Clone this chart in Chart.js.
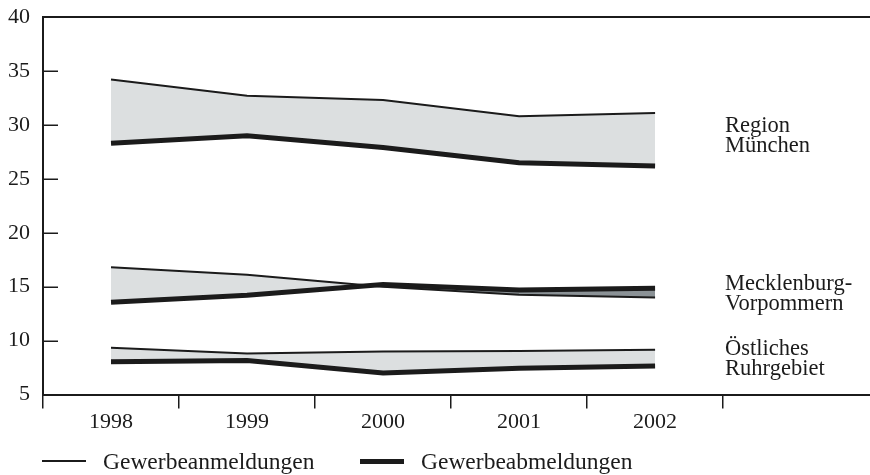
<!DOCTYPE html>
<html>
<head>
<meta charset="utf-8">
<script src="https://cdn.jsdelivr.net/npm/chart.js@4"></script>
<style>
  body { margin: 0; background: #fff; }
  #wrap { position: relative; width: 870px; height: 475px; }
  #legend { position: absolute; left: 0; top: 447px; width: 870px; height: 28px;
            font: 23.5px "Liberation Serif", "Times New Roman", serif; color: #1b1b1b; }
  .item { position: absolute; top: 0; display: flex; align-items: center; height: 28px; white-space: nowrap; }
  .swatch { width: 44px; background: #1b1b1b; margin-right: 17px; }
</style>
</head>
<body>
<div id="wrap">
  <canvas id="chart" width="870" height="475"></canvas>
  <div id="legend"></div>
</div>
<script>
// data (values per year)
const years = [1998, 1999, 2000, 2001, 2002];
const seriesNames = ["Gewerbeanmeldungen", "Gewerbeabmeldungen"];
const regionNames = [["Region", "München"], ["Mecklenburg-", "Vorpommern"], ["Östliches", "Ruhrgebiet"]];

const muenchenAn = [34.2, 32.7, 32.3, 30.8, 31.1];
const muenchenAb = [28.3, 29.0, 27.9, 26.5, 26.2];
const mvAn = [16.8, 16.1, 15.0, 14.25, 14.0];
const mvAb = [13.55, 14.2, 15.2, 14.7, 14.85];
const ruhrAn = [9.35, 8.8, 9.0, 9.05, 9.15];
const ruhrAb = [8.05, 8.15, 7.0, 7.45, 7.65];

const regionSeries = [[muenchenAn, muenchenAb], [mvAn, mvAb], [ruhrAn, ruhrAb]];

// where the region names sit (y value of the text block centre)
const regionLabelAt = [29.0, 14.3, 8.3];

const ink = "#1b1b1b";
const lightFill = "#dcdfe0";
const darkFill = "#8b9296";
const fontFamily = "'Liberation Serif', 'Times New Roman', serif";
const font = { family: fontFamily, size: 22 };
const lineWidths = [2, 5];

const xMin = years[0] - 0.5;
const xMax = 2003.58;
const boundaries = years.map(y => y - 0.5).concat(years[years.length - 1] + 0.5);

function points(values) {
  return values.map((v, i) => ({ x: years[i], y: v }));
}

const datasets = [];
regionSeries.forEach((pair, k) => {
  datasets.push({
    label: seriesNames[0] + " " + regionNames[k].join(" "),
    data: points(pair[0]),
    borderColor: ink,
    borderWidth: lineWidths[0],
    pointRadius: 0,
    tension: 0,
    borderJoinStyle: "miter",
    fill: { target: "+1", above: lightFill, below: darkFill }
  });
  datasets.push({
    label: seriesNames[1] + " " + regionNames[k].join(" "),
    data: points(pair[1]),
    borderColor: ink,
    borderWidth: lineWidths[1],
    pointRadius: 0,
    tension: 0,
    borderJoinStyle: "miter",
    fill: false
  });
});

// y ticks point into the plot, so draw them from the scale here
const innerTicks = {
  id: "innerTicks",
  afterDraw(chart) {
    const { ctx, chartArea, scales: { y } } = chart;
    ctx.save();
    ctx.strokeStyle = ink;
    ctx.lineWidth = 1.5;
    y.ticks.forEach(t => {
      const py = Math.round(y.getPixelForValue(t.value)) + 0.25;
      ctx.beginPath();
      ctx.moveTo(chartArea.left, py);
      ctx.lineTo(chartArea.left + 15, py);
      ctx.stroke();
    });
    ctx.restore();
  }
};

const regionLabels = {
  id: "regionLabels",
  afterDatasetsDraw(chart) {
    const { ctx, scales: { x, y } } = chart;
    const left = x.getPixelForValue(boundaries[boundaries.length - 1]) + 2;
    ctx.save();
    ctx.font = `22.5px ${fontFamily}`;
    ctx.fillStyle = ink;
    ctx.textBaseline = "middle";
    regionNames.forEach((lines, k) => {
      const cy = y.getPixelForValue(regionLabelAt[k]);
      lines.forEach((t, j) => {
        ctx.fillText(t, left, cy + (j - (lines.length - 1) / 2) * 20);
      });
    });
    ctx.restore();
  }
};

new Chart(document.getElementById("chart"), {
  type: "line",
  data: { datasets },
  options: {
    responsive: false,
    animation: false,
    devicePixelRatio: 1,
    layout: { padding: { top: 17, left: 0, right: 0, bottom: 40 } },
    plugins: {
      legend: { display: false },
      tooltip: { enabled: false },
      filler: { drawTime: "beforeDatasetsDraw" }
    },
    scales: {
      x: {
        type: "linear",
        position: "bottom",
        min: xMin,
        max: xMax,
        weight: 1,
        afterBuildTicks: s => { s.ticks = years.map(v => ({ value: v })); },
        grid: { display: false, drawTicks: false },
        border: { display: false },
        ticks: { font, color: ink, padding: 0, maxRotation: 0, autoSkip: false, callback: v => String(v) }
      },
      xt: {
        type: "linear",
        position: "bottom",
        min: xMin,
        max: xMax,
        weight: 0,
        afterBuildTicks: s => { s.ticks = boundaries.map(v => ({ value: v })); },
        grid: { drawOnChartArea: false, tickLength: 14, color: ink, lineWidth: 1.5 },
        border: { color: ink, width: 2 },
        ticks: { display: false }
      },
      y: {
        min: 5,
        max: 40,
        afterFit: s => { s.width = 43; s.paddingTop = 0; s.paddingBottom = 0; },
        ticks: { stepSize: 5, font, color: ink, padding: 13 },
        grid: {
          drawTicks: false,
          lineWidth: 2,
          color: c => (c.tick && c.tick.value === 40 ? ink : "rgba(0,0,0,0)")
        },
        border: { color: ink, width: 2 }
      }
    }
  },
  plugins: [innerTicks, regionLabels]
});

// legend below the plot
const legendLeft = [42, 360];
const legend = document.getElementById("legend");
seriesNames.forEach((name, i) => {
  const item = document.createElement("div");
  item.className = "item";
  item.style.left = legendLeft[i] + "px";
  const sw = document.createElement("span");
  sw.className = "swatch";
  sw.style.height = lineWidths[i] + "px";
  const label = document.createElement("span");
  label.textContent = name;
  item.append(sw, label);
  legend.appendChild(item);
});
</script>
</body>
</html>
